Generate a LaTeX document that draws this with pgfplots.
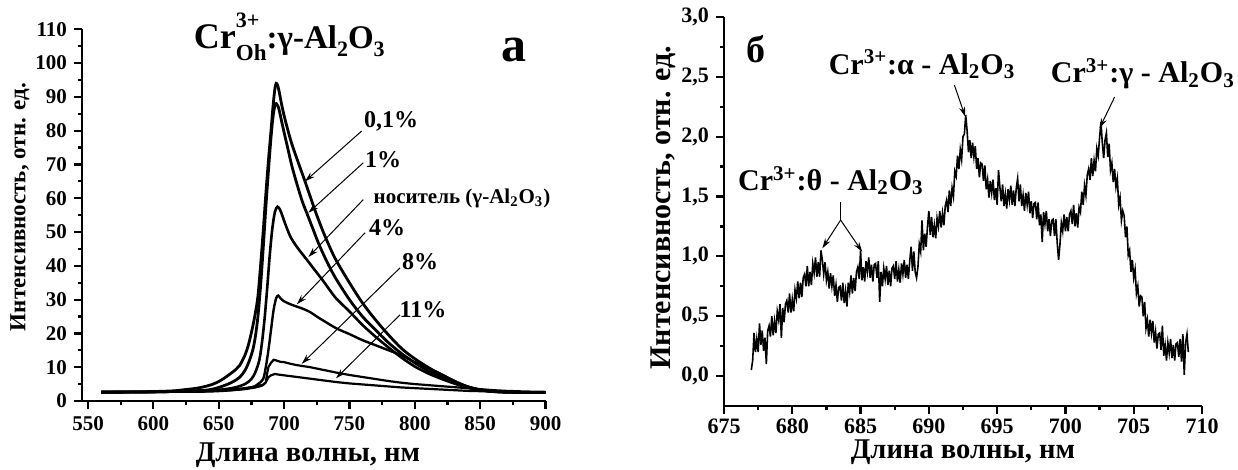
\documentclass[border=0pt]{standalone}
\usepackage{fontspec}
\setmainfont{Liberation Serif}
\usepackage{pgfplots}
\pgfplotsset{compat=1.18}
\usetikzlibrary{arrows.meta}

\pgfplotsset{
  mystyle/.style={
    scale only axis, clip=false,
    axis x line*=bottom, axis y line*=left,
    axis line style={line width=1.1pt},
    tick style={line width=1.1pt, black},
    tick align=outside,
    major tick length=4pt, minor tick length=2.2pt,
    minor x tick num=1, minor y tick num=1,
    /pgf/number format/assume math mode=true,
  },
}
\tikzset{annarrow/.style={line width=0.5pt, -{Stealth[length=5pt,width=3pt]}}}

\begin{document}
\begin{tikzpicture}
\path[use as bounding box] (0,0) rectangle (619pt,235pt);

% ---------------- panel a ----------------
\begin{axis}[mystyle,
  at={(41pt,34.5pt)}, anchor=south west,
  width=231.75pt, height=185.85pt,
  xmin=545.4, xmax=900, ymin=0, ymax=110,
  xtick={550,600,...,900}, ytick={0,10,...,110},
  tick label style={font=\bfseries\fontsize{10.5}{10.5}\selectfont},
  xlabel={Длина волны, нм},
  ylabel={Интенсивность, отн. ед.},
  xlabel style={at={(axis description cs:0.4876,-0.145)}, anchor=center, font=\bfseries\fontsize{14.3}{14.3}\selectfont},
  ylabel style={at={(axis description cs:-0.134,0.522)}, anchor=center, font=\bfseries\fontsize{11.5}{11.5}\selectfont},
]
% 0,1%
\addplot[black, line width=1.4pt, smooth] coordinates {
(560,2.7)(580,2.7)(600,2.8)(615,3.0)(625,3.4)(635,3.9)(645,4.9)(652,6.2)(658,7.8)(663,9.3)(666,10.5)(670,13.5)(673,17)(676,22)(678,26)(680,31)(682,40)(684,50)(686,61)(688,71)(690,80)(691.5,87)(693,92.5)(694,94)(695,93.5)(696,92)(698,88)(700,84.5)(703,80)(706,76)(710,71.5)(716,65)(720,60.5)(725,55)(730,50)(735,45.5)(740,41.5)(750,35)(760,29)(770,24)(780,19.5)(790,15.5)(800,12.5)(810,10)(820,7.8)(830,5.9)(840,4.3)(850,3.3)(860,2.8)(870,2.6)(885,2.5)(900,2.5)};
% 1%
\addplot[black, line width=1.4pt, smooth] coordinates {
(560,2.6)(600,2.7)(620,2.9)(640,3.2)(650,4)(660,5.5)(666,7)(670,9)(673,11.5)(676,15)(678,19)(680,25)(682,34)(684,45)(686,57)(688,68)(690,78)(691.5,84)(693,87.5)(694,88)(695,87.5)(696,86.5)(698,83)(700,79.5)(703,74.5)(706,69.5)(710,64)(714,59)(718,55)(722,51)(726,47)(730,43.5)(735,39.5)(740,36)(750,30)(760,25)(770,21)(780,17.2)(790,14)(800,11.3)(810,9)(820,7.2)(830,5.6)(840,4.2)(850,3.3)(860,2.8)(870,2.6)(885,2.5)(900,2.5)};
% nositel
\addplot[black, line width=1.3pt, smooth] coordinates {
(560,2.6)(600,2.7)(640,3)(660,3.8)(670,5)(675,6.5)(678,8.5)(681,12)(683,17)(685,24)(687,33)(689,43)(691,51)(693,56)(695,57.5)(697,56.5)(699,54.5)(701,52.3)(705,48.5)(710,45.5)(715,43)(720,40.5)(725,38)(730,35.5)(735,32.8)(740,30.3)(750,26.5)(760,22.5)(770,19)(780,15.8)(790,12.8)(800,10.2)(810,8.2)(820,6.6)(830,5.2)(840,4)(850,3.2)(860,2.8)(875,2.6)(900,2.5)};
% 4%
\addplot[black, line width=1.2pt, smooth] coordinates {
(560,2.6)(600,2.7)(640,2.8)(660,3.2)(675,4)(680,5)(684,6.5)(686,10)(688,15)(690,21)(692,27)(694,30.5)(695.5,31.2)(697,30.5)(700,29.5)(705,28.6)(710,27.9)(715,27.2)(720,26.3)(725,25)(730,23.8)(740,21.5)(750,19.8)(760,18)(770,16.5)(780,15)(790,13.5)(800,11.5)(810,9.8)(820,8)(830,6)(840,4.3)(850,3.3)(860,2.8)(880,2.6)(900,2.5)};
% 8%
\addplot[black, line width=1.1pt] coordinates {
(560,2.6)(600,2.7)(640,3)(660,3.4)(670,3.8)(678,4.3)(684,4.8)(686,5.5)(687,8)(688,10)(690,11.3)(692,12.2)(694,12.0)(697,11.6)(700,11.5)(705,11)(710,10.6)(715,10.3)(720,10)(730,9.2)(740,8.4)(750,7.7)(760,7.1)(770,6.5)(780,5.9)(790,5.4)(800,5)(810,4.7)(820,4.4)(830,4.1)(840,3.8)(850,3.5)(860,3.2)(870,3)(885,2.8)(900,2.7)};
% 11%
\addplot[black, line width=1.1pt] coordinates {
(560,2.5)(600,2.6)(640,2.9)(660,3.2)(670,3.5)(678,4)(683,4.5)(686,5.5)(688,7)(690,7.6)(693,8)(696,7.8)(700,7.6)(710,7.1)(720,6.6)(730,6.1)(740,5.6)(750,5.2)(760,4.9)(770,4.6)(780,4.3)(790,4.0)(800,3.8)(810,3.6)(820,3.4)(830,3.2)(840,3.0)(860,2.8)(880,2.6)(900,2.6)};

\node[anchor=base, font=\bfseries\fontsize{16.5}{16.5}\selectfont] at (axis cs:704,104.2)
  {{\fontsize{18}{18}\selectfont Cr}\rlap{\raisebox{10.5pt}{\fontsize{11}{11}\selectfont 3+}}\raisebox{-6pt}{\fontsize{11.5}{11.5}\selectfont Oh}:γ-Al\raisebox{-4pt}{\fontsize{11}{11}\selectfont 2}O\raisebox{-4pt}{\fontsize{11}{11}\selectfont 3}};
\node[anchor=base, font=\bfseries\fontsize{25}{25}\selectfont] at (axis cs:876,100.5) {а};

\node[font=\bfseries\fontsize{12}{12}\selectfont] at (axis cs:781.8,82.8) {0,1\%};
\node[font=\bfseries\fontsize{12}{12}\selectfont] at (axis cs:775.7,71.5) {1\%};
\node[font=\bfseries\fontsize{10.5}{10.5}\selectfont] at (axis cs:836.1,59.9) {носитель (γ-Al\textsubscript{2}O\textsubscript{3})};
\node[font=\bfseries\fontsize{12}{12}\selectfont] at (axis cs:778.8,51.3) {4\%};
\node[font=\bfseries\fontsize{12}{12}\selectfont] at (axis cs:804.0,41.2) {8\%};
\node[font=\bfseries\fontsize{12}{12}\selectfont] at (axis cs:806.3,27.0) {11\%};

\draw[annarrow] (axis cs:759.4,79.9) -- (axis cs:716.0,65.0);
\draw[annarrow] (axis cs:760.6,70.5) -- (axis cs:718.6,55.7);
\draw[annarrow] (axis cs:760.6,59.6) -- (axis cs:718.6,42.6);
\draw[annarrow] (axis cs:762.0,49.8) -- (axis cs:709.7,28.6);
\draw[annarrow] (axis cs:788.7,39.4) -- (axis cs:713.5,11.0);
\draw[annarrow] (axis cs:788.7,25.5) -- (axis cs:739.7,6.7);
\end{axis}

% ---------------- panel b ----------------
\begin{axis}[mystyle,
  at={(362pt,32pt)}, anchor=south west,
  width=239pt, height=194.55pt,
  xmin=675, xmax=710, ymin=-0.25, ymax=3.0,
  xtick={675,680,...,710}, ytick={0,0.5,...,3.0},
  yticklabel style={/pgf/number format/.cd, use comma, fixed, fixed zerofill, precision=1},
  tick label style={font=\bfseries\fontsize{11}{11}\selectfont},
  xticklabel style={yshift=1pt},
  xlabel={Длина волны, нм},
  ylabel={Интенсивность, отн. ед.},
  xlabel style={at={(axis description cs:0.5,-0.12)}, anchor=center, font=\bfseries\fontsize{14.3}{14.3}\selectfont},
  ylabel style={at={(axis description cs:-0.128,0.51)}, anchor=center, font=\bfseries\fontsize{15}{15}\selectfont},
]
\addplot[black, line width=0.8pt] table {
677.0 0.05
677.1 0.13
677.2 0.36
677.3 0.20
677.4 0.31
677.5 0.20
677.6 0.44
677.7 0.26
677.8 0.38
677.9 0.21
678.0 0.32
678.1 0.10
678.2 0.38
678.3 0.42
678.4 0.33
678.5 0.50
678.6 0.34
678.7 0.46
678.8 0.36
678.9 0.54
679.0 0.47
679.1 0.60
679.2 0.32
679.3 0.57
679.4 0.45
679.5 0.60
679.6 0.63
679.7 0.53
679.8 0.69
679.9 0.53
680.0 0.64
680.1 0.54
680.2 0.72
680.3 0.65
680.4 0.79
680.5 0.65
680.6 0.78
680.7 0.66
680.8 0.82
680.9 0.85
681.0 0.75
681.1 0.92
681.2 0.75
681.3 0.87
681.4 0.76
681.5 0.94
681.6 0.86
681.7 0.99
681.8 0.83
681.9 0.95
682.0 0.83
682.1 1.05
682.2 0.97
682.3 0.85
682.4 0.95
682.5 0.80
682.6 0.87
682.7 0.73
682.8 0.86
682.9 0.75
683.0 0.84
683.1 0.67
683.2 0.76
683.3 0.62
683.4 0.74
683.5 0.75
683.6 0.63
683.7 0.78
683.8 0.61
683.9 0.71
684.0 0.58
684.1 0.78
684.2 0.70
684.3 0.84
684.4 0.69
684.5 0.82
684.6 0.71
684.7 0.87
684.8 0.91
684.9 0.81
685.0 1.05
685.1 0.80
685.2 0.91
685.3 0.79
685.4 0.96
685.5 0.87
685.6 0.99
685.7 0.82
685.8 0.93
685.9 0.79
686.0 0.93
686.1 0.94
686.2 0.82
686.3 0.96
686.4 0.62
686.5 0.87
686.6 0.75
686.7 0.90
686.8 0.81
686.9 0.92
687.0 0.76
687.1 0.88
687.2 0.75
687.3 0.90
687.4 0.92
687.5 0.81
687.6 0.96
687.7 0.79
687.8 0.89
687.9 0.78
688.0 0.94
688.1 0.85
688.2 0.97
688.3 0.82
688.4 0.93
688.5 0.81
688.6 0.96
688.7 1.08
688.8 0.88
688.9 1.04
689.0 0.87
689.1 0.82
689.2 0.91
689.3 1.10
689.4 1.04
689.5 1.30
689.6 1.05
689.7 1.19
689.8 1.08
689.9 1.25
690.0 1.38
690.1 1.18
690.2 1.33
690.3 1.16
690.4 1.26
690.5 1.15
690.6 1.32
690.7 1.25
690.8 1.38
690.9 1.24
691.0 1.36
691.1 1.26
691.2 1.42
691.3 1.47
691.4 1.37
691.5 1.55
691.6 1.42
691.7 1.57
691.8 1.50
691.9 1.71
692.0 1.67
692.1 1.84
692.2 1.73
692.3 1.89
692.4 1.81
692.5 2.00
692.6 2.02
692.7 2.18
692.8 2.05
692.9 1.87
693.0 1.97
693.1 1.82
693.2 1.95
693.3 1.83
693.4 1.92
693.5 1.73
693.6 1.82
693.7 1.66
693.8 1.78
693.9 1.77
694.0 1.63
694.1 1.76
694.2 1.56
694.3 1.64
694.4 1.49
694.5 1.63
694.6 1.53
694.7 1.64
694.8 1.47
694.9 1.57
695.0 1.43
695.1 1.72
695.2 1.58
695.3 1.46
695.4 1.60
695.5 1.42
695.6 1.52
695.7 1.40
695.8 1.56
695.9 1.47
696.0 1.59
696.1 1.43
696.2 1.55
696.3 1.42
696.4 1.57
696.5 1.65
696.6 1.46
696.7 1.60
696.8 1.42
696.9 1.51
697.0 1.38
697.1 1.53
697.2 1.43
697.3 1.54
697.4 1.36
697.5 1.46
697.6 1.32
697.7 1.44
697.8 1.45
697.9 1.31
698.0 1.45
698.1 1.26
698.2 1.35
698.3 1.12
698.4 1.37
698.5 1.27
698.6 1.38
698.7 1.21
698.8 1.31
698.9 1.17
699.0 1.30
699.1 1.31
699.2 1.17
699.3 1.31
699.4 1.11
699.5 0.97
699.6 1.10
699.7 1.28
699.8 1.21
699.9 1.35
700.0 1.21
700.1 1.33
700.2 1.21
700.3 1.35
700.4 1.38
700.5 1.27
700.6 1.43
700.7 1.25
700.8 1.36
700.9 1.24
701.0 1.41
701.1 1.37
701.2 1.54
701.3 1.43
701.4 1.59
701.5 1.51
701.6 1.68
701.7 1.73
701.8 1.64
701.9 1.82
702.0 1.67
702.1 1.80
702.2 1.71
702.3 1.90
702.4 1.84
702.5 1.99
702.6 2.12
702.7 1.95
702.8 1.82
702.9 1.97
703.0 2.03
703.1 1.83
703.2 1.94
703.3 1.72
703.4 1.78
703.5 1.62
703.6 1.73
703.7 1.58
703.8 1.65
703.9 1.43
704.0 1.49
704.1 1.30
704.2 1.38
704.3 1.34
704.4 1.16
704.5 1.25
704.6 1.01
704.7 1.05
704.8 0.87
704.9 0.97
705.0 0.82
705.1 0.89
705.2 0.69
705.3 0.75
705.4 0.58
705.5 0.67
705.6 0.66
705.7 0.50
705.8 0.62
705.9 0.40
706.0 0.47
706.1 0.33
706.2 0.47
706.3 0.36
706.4 0.46
706.5 0.28
706.6 0.37
706.7 0.23
706.8 0.35
706.9 0.36
707.0 0.22
707.1 0.42
707.2 0.17
707.3 0.26
707.4 0.13
707.5 0.28
707.6 0.19
707.7 0.31
707.8 0.15
707.9 0.26
708.0 0.13
708.1 0.27
708.2 0.28
708.3 0.16
708.4 0.31
708.5 0.12
708.6 0.35
708.7 0.01
708.8 0.28
708.9 0.35
709.0 0.20
};

\node[anchor=base, font=\bfseries\fontsize{19}{19}\selectfont] at (axis cs:677.35,2.62) {б};
\node[anchor=base, font=\bfseries\fontsize{15}{15}\selectfont] at (axis cs:689.5,2.52) {Cr\textsuperscript{3+}:α - Al\textsubscript{2}O\textsubscript{3}};
\node[anchor=base, font=\bfseries\fontsize{15}{15}\selectfont] at (axis cs:705.67,2.45) {Cr\textsuperscript{3+}:γ - Al\textsubscript{2}O\textsubscript{3}};
\node[anchor=base, font=\bfseries\fontsize{15}{15}\selectfont] at (axis cs:682.83,1.55) {Cr\textsuperscript{3+}:θ - Al\textsubscript{2}O\textsubscript{3}};

\draw[annarrow] (axis cs:691.87,2.43) -- (axis cs:692.67,2.166);
\draw[annarrow] (axis cs:703.6,2.33) -- (axis cs:702.5,2.07);
\draw[line width=0.6pt] (axis cs:683.54,1.456) -- (axis cs:683.54,1.303);
\draw[annarrow] (axis cs:683.54,1.303) -- (axis cs:682.2,1.067);
\draw[annarrow] (axis cs:683.54,1.303) -- (axis cs:685.12,1.038);
\end{axis}
\end{tikzpicture}
\end{document}
